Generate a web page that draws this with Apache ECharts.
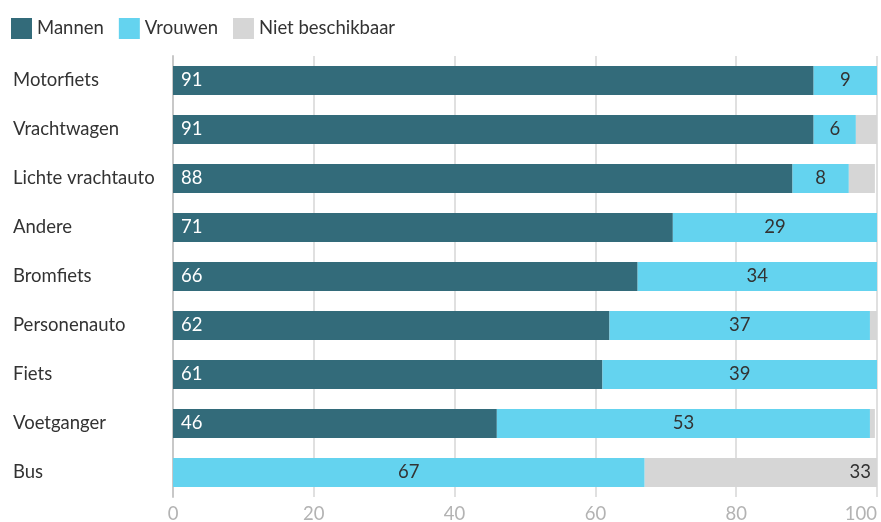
<!DOCTYPE html>
<html><head><meta charset="utf-8">
<script src="https://cdn.jsdelivr.net/npm/echarts@6/dist/echarts.min.js"></script>
<style>html,body{margin:0;padding:0;background:#fff}#c{width:881px;height:522px}</style>
</head><body><div id="c"></div>
<script>
const categories = ["Motorfiets","Vrachtwagen","Lichte vrachtauto","Andere","Bromfiets","Personenauto","Fiets","Voetganger","Bus"];
const mannen = [91, 91, 88, 71, 66, 62, 61, 46, 0];
const vrouwen = [9, 6, 8, 29, 34, 37, 39, 53, 67];
const nietBeschikbaar = [0, 3.2, 3.7, 0, 0, 1, 0.3, 0.7, 33];
const xTicks = [0, 20, 40, 60, 80, 100];

const font = 'Lato, "Open Sans", sans-serif';
const fs = 18.5;
const fmt = p => (p.value >= 5 ? Math.round(p.value) : '');
const chart = echarts.init(document.getElementById('c'));
chart.setOption({
  animation: false,
  legend: {
    left: 11, top: 18, itemWidth: 21, itemHeight: 21, itemGap: 15,
    icon: 'rect', padding: 0,
    textStyle: {fontFamily: font, fontSize: fs, color: '#333'},
    data: ["Mannen","Vrouwen","Niet beschikbaar"]
  },
  grid: {left: 173, right: 4, top: 56, bottom: 25, containLabel: false, outerBoundsMode: 'none'},
  xAxis: {
    type: 'value', min: 0, max: 100, interval: 20,
    axisLine: {show: false}, axisTick: {show: false},
    splitLine: {lineStyle: {color: '#e0e0e0', width: 2}},
    axisLabel: {fontFamily: font, fontSize: fs, color: '#b3b3b3', margin: 8, alignMaxLabel: 'right',
      formatter: v => xTicks.includes(v) ? String(v) : ''}
  },
  yAxis: {
    type: 'category', inverse: true, data: categories,
    axisLine: {show: true, lineStyle: {color: '#c8c8c8', width: 2}},
    axisTick: {show: false},
    axisLabel: {fontFamily: font, fontSize: fs, color: '#333', align: 'left', margin: 160}
  },
  series: [
    {name: 'Mannen', type: 'bar', stack: 't', data: mannen, barWidth: 29,
     itemStyle: {color: '#336b7a'},
     label: {show: true, position: 'insideLeft', offset: [3, 0], formatter: fmt, color: '#fff', fontFamily: font, fontSize: fs}},
    {name: 'Vrouwen', type: 'bar', stack: 't', data: vrouwen, barWidth: 29,
     itemStyle: {color: '#64d3ef'},
     label: {show: true, position: 'inside', formatter: fmt, color: '#333', fontFamily: font, fontSize: fs}},
    {name: 'Niet beschikbaar', type: 'bar', stack: 't', data: nietBeschikbaar, barWidth: 29,
     itemStyle: {color: '#d6d6d6'},
     label: {show: true, position: 'insideRight', offset: [-1, 0], formatter: fmt, color: '#333', fontFamily: font, fontSize: fs}}
  ]
});
</script></body></html>
